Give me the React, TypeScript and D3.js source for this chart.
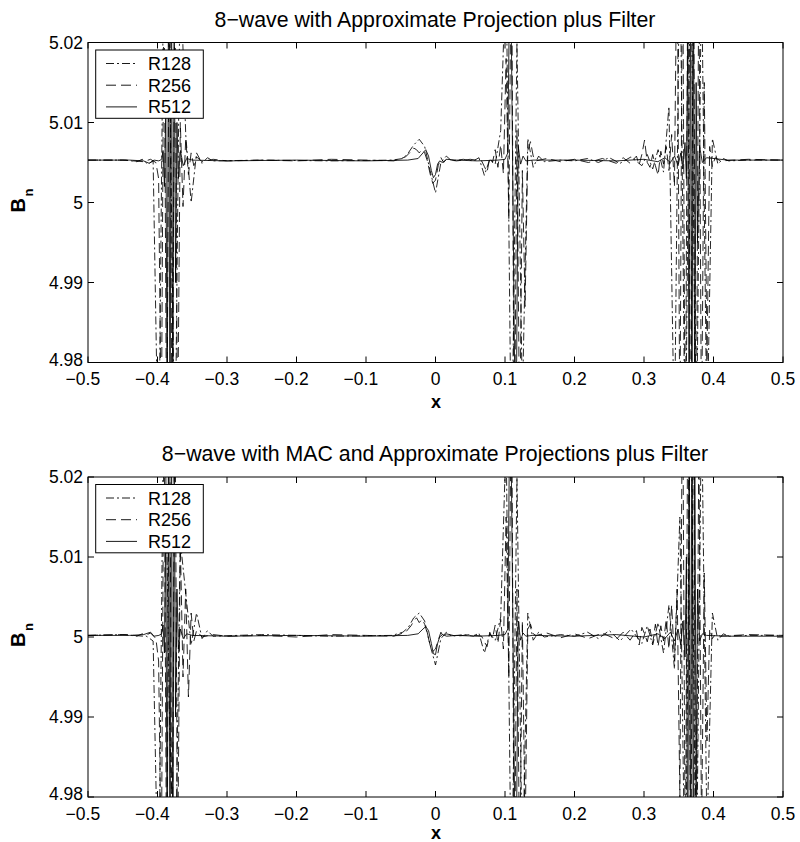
import React from 'react';
import * as d3 from 'd3';

type Pt = [number, number];

const xTicks = [-0.5, -0.4, -0.3, -0.2, -0.1, 0, 0.1, 0.2, 0.3, 0.4, 0.5];
const yTicks = [4.98, 4.99, 5, 5.01, 5.02];
const seriesNames = ['R128', 'R256', 'R512'];
const panelTitles = [
  '8\u2212wave with Approximate Projection plus Filter',
  '8\u2212wave with MAC and Approximate Projections plus Filter',
];

// ---------- top panel ----------
const topR128: Pt[] = [
  [-0.5, 5.0053], [-0.4453, 5.0053], [-0.4297, 5.0051], [-0.4219, 5.0054], [-0.4141, 5.0048], [-0.4063, 5.0052],
  [-0.3984, 4.965], [-0.3906, 5.035], [-0.3828, 5.02], [-0.375, 4.965], [-0.3672, 5.03], [-0.3594, 5.0085],
  [-0.3516, 5.0], [-0.3438, 5.0062], [-0.3359, 5.0049], [-0.3281, 5.0056], [-0.3203, 5.0052], [-0.25, 5.0053],
  [-0.15, 5.0052], [-0.0625, 5.0053], [-0.0469, 5.0055], [-0.0391, 5.0062], [-0.0313, 5.0072], [-0.0234, 5.0079],
  [-0.0156, 5.007], [-0.0078, 5.004], [0.0, 5.0012], [0.0078, 5.005], [0.0156, 5.0058], [0.0234, 5.0052],
  [0.04, 5.0054], [0.0547, 5.0052], [0.0625, 5.0056], [0.0703, 5.0034], [0.0781, 5.0054], [0.0859, 5.0048],
  [0.0938, 5.009], [0.1016, 5.03], [0.1094, 4.965], [0.1172, 5.02], [0.125, 4.975], [0.1328, 5.008],
  [0.1406, 5.0044], [0.1484, 5.0058], [0.1563, 5.0051], [0.18, 5.0053], [0.2, 5.0052], [0.2188, 5.0055],
  [0.2344, 5.005], [0.25, 5.0056], [0.2656, 5.0049], [0.2813, 5.0057], [0.2969, 5.0046], [0.3047, 5.006],
  [0.3125, 5.0042], [0.3203, 5.0066], [0.3281, 5.0038], [0.3359, 5.012], [0.3438, 4.97], [0.3516, 5.035],
  [0.3594, 4.965], [0.3672, 5.035], [0.375, 4.965], [0.3828, 5.03], [0.3906, 4.97], [0.3984, 5.008],
  [0.4063, 5.0048], [0.4141, 5.0055], [0.4219, 5.0052], [0.45, 5.0053], [0.5, 5.0053],
];

const topR256: Pt[] = [
  [-0.5, 5.0053], [-0.45, 5.0053], [-0.42, 5.0051], [-0.41, 5.0054], [-0.4023, 5.005], [-0.3984, 5.003],
  [-0.3945, 4.97], [-0.3906, 5.03], [-0.3867, 4.965], [-0.3828, 5.035], [-0.3789, 4.965], [-0.375, 5.03],
  [-0.3711, 4.97], [-0.3672, 5.01], [-0.3633, 4.9995], [-0.3594, 5.008], [-0.3555, 5.0035], [-0.3516, 5.0062],
  [-0.3477, 5.0046], [-0.3438, 5.0057], [-0.3359, 5.0051], [-0.32, 5.0054], [-0.3, 5.0052], [-0.25, 5.0053],
  [-0.2, 5.0052], [-0.15, 5.0054], [-0.1, 5.0053], [-0.06, 5.0052], [-0.043, 5.0057], [-0.0352, 5.0064],
  [-0.0313, 5.0068], [-0.0273, 5.0066], [-0.0234, 5.0062], [-0.0195, 5.0066], [-0.0156, 5.0062], [-0.0117, 5.0052],
  [-0.0078, 5.0036], [-0.0039, 5.0024], [0.0, 5.0028], [0.0039, 5.0046], [0.0078, 5.0056], [0.0117, 5.005],
  [0.0156, 5.0054], [0.03, 5.0052], [0.05, 5.0054], [0.0664, 5.0052], [0.0703, 5.0045], [0.0742, 5.0038],
  [0.0781, 5.0056], [0.082, 5.005], [0.0859, 5.0066], [0.0898, 5.0044], [0.0938, 5.0072], [0.0977, 5.0036],
  [0.1016, 5.018], [0.1055, 4.998], [0.1094, 5.035], [0.1133, 4.965], [0.1172, 5.009], [0.1211, 4.97],
  [0.125, 5.004], [0.1289, 4.987], [0.1328, 5.0065], [0.1367, 5.0076], [0.1406, 5.0058], [0.1445, 5.0052],
  [0.16, 5.0055], [0.18, 5.0051], [0.2, 5.0054], [0.22, 5.005], [0.24, 5.0055], [0.26, 5.0049],
  [0.27, 5.0056], [0.28, 5.0049], [0.2891, 5.0058], [0.293, 5.0047], [0.2969, 5.006], [0.3008, 5.0078],
  [0.3047, 5.005], [0.3086, 5.0044], [0.3125, 5.006], [0.3164, 5.0046], [0.3203, 5.0034], [0.3242, 5.0064],
  [0.3281, 5.0048], [0.332, 5.007], [0.3359, 5.004], [0.3398, 5.0085], [0.3438, 5.002], [0.3477, 5.035],
  [0.3516, 4.97], [0.3555, 5.035], [0.3594, 4.965], [0.3633, 5.035], [0.3672, 4.965], [0.3711, 5.035],
  [0.375, 4.965], [0.3789, 5.03], [0.3828, 4.97], [0.3867, 5.015], [0.3906, 4.98], [0.3945, 5.007],
  [0.3984, 5.0045], [0.4023, 5.0056], [0.41, 5.0052], [0.45, 5.0054], [0.5, 5.0053],
];

const topR512: Pt[] = [
  [-0.5, 5.0053], [-0.44, 5.0053], [-0.42, 5.0052], [-0.412, 5.0049], [-0.405, 5.0053], [-0.398, 5.0052],
  [-0.394, 5.0054], [-0.392, 5.0065], [-0.39, 5.002], [-0.388, 5.012], [-0.386, 4.97], [-0.384, 5.035],
  [-0.382, 4.965], [-0.38, 5.035], [-0.378, 4.97], [-0.376, 5.025], [-0.374, 4.99], [-0.372, 5.01],
  [-0.37, 5.003], [-0.367, 5.0065], [-0.363, 5.0046], [-0.358, 5.0055], [-0.35, 5.0053], [-0.3, 5.0052],
  [-0.2, 5.0053], [-0.1, 5.0052], [-0.04, 5.0053], [-0.025, 5.0055], [-0.018, 5.0062], [-0.014, 5.0066],
  [-0.01, 5.0058], [-0.006, 5.004], [-0.003, 5.0031], [0.0, 5.0035], [0.003, 5.0048], [0.006, 5.0052],
  [0.01, 5.005], [0.016, 5.0054], [0.03, 5.0053], [0.06, 5.0052], [0.09, 5.0053], [0.1, 5.0054],
  [0.104, 5.0062], [0.1075, 5.035], [0.1115, 5.0], [0.1155, 4.965], [0.119, 5.007], [0.1225, 5.0048],
  [0.126, 5.0058], [0.13, 5.0052], [0.14, 5.0053], [0.2, 5.0053], [0.26, 5.0052], [0.3, 5.0054],
  [0.32, 5.0051], [0.33, 5.0056], [0.338, 5.005], [0.344, 5.0058], [0.349, 5.0046], [0.353, 5.0062],
  [0.356, 5.0042], [0.359, 5.0075], [0.361, 5.003], [0.363, 5.02], [0.365, 4.965], [0.367, 5.035],
  [0.369, 4.965], [0.371, 5.035], [0.373, 4.97], [0.375, 5.015], [0.377, 4.995], [0.38, 5.007],
  [0.384, 5.005], [0.39, 5.0056], [0.42, 5.0053], [0.5, 5.0053],
];

// ---------- bottom panel ----------
const botR128: Pt[] = [
  [-0.5, 5.0002], [-0.4453, 5.0003], [-0.4297, 5.0001], [-0.4219, 5.0004], [-0.4141, 5.0], [-0.4063, 4.9995],
  [-0.3984, 4.965], [-0.3906, 5.035], [-0.3828, 4.99], [-0.375, 4.965], [-0.3672, 5.012], [-0.3594, 5.0055],
  [-0.3516, 4.999], [-0.3438, 5.003], [-0.3359, 4.9998], [-0.3281, 5.0008], [-0.3203, 5.0001], [-0.25, 5.0003],
  [-0.15, 5.0001], [-0.0625, 5.0002], [-0.0469, 5.0006], [-0.0391, 5.0012], [-0.0313, 5.0024], [-0.0234, 5.003],
  [-0.0156, 5.002], [-0.0078, 4.999], [0.0, 4.9965], [0.0078, 4.9998], [0.0156, 5.0006], [0.0234, 5.0001],
  [0.04, 5.0003], [0.0547, 5.0001], [0.0625, 5.0005], [0.0703, 4.998], [0.0781, 5.0004], [0.0859, 4.9996],
  [0.0938, 5.0025], [0.1016, 5.025], [0.1094, 4.965], [0.1172, 5.02], [0.125, 4.97], [0.1328, 5.003],
  [0.1406, 4.9996], [0.1484, 5.0006], [0.1563, 5.0], [0.18, 5.0003], [0.2, 5.0001], [0.2188, 5.0006],
  [0.2344, 4.9998], [0.25, 5.0008], [0.2656, 4.9995], [0.2813, 5.001], [0.2969, 4.9992], [0.3047, 5.0014],
  [0.3125, 4.999], [0.3203, 5.0018], [0.3281, 4.998], [0.3359, 5.004], [0.3438, 4.996], [0.3516, 5.015],
  [0.3594, 4.965], [0.3672, 5.035], [0.375, 4.965], [0.3828, 5.03], [0.3906, 4.975], [0.3984, 5.003],
  [0.4063, 4.9996], [0.4141, 5.0004], [0.4219, 5.0001], [0.45, 5.0002], [0.5, 5.0002],
];

const botR256: Pt[] = [
  [-0.5, 5.0002], [-0.45, 5.0003], [-0.42, 5.0001], [-0.41, 5.0005], [-0.4023, 4.9998], [-0.3984, 4.997],
  [-0.3945, 4.97], [-0.3906, 5.03], [-0.3867, 4.965], [-0.3828, 5.035], [-0.3789, 4.965], [-0.375, 5.035],
  [-0.3711, 4.97], [-0.3672, 5.012], [-0.3633, 4.995], [-0.3594, 5.006], [-0.3555, 4.9925], [-0.3516, 5.003],
  [-0.3477, 4.9995], [-0.3438, 5.0008], [-0.3359, 5.0], [-0.32, 5.0003], [-0.3, 5.0001], [-0.25, 5.0002],
  [-0.2, 5.0], [-0.15, 5.0003], [-0.1, 5.0002], [-0.06, 5.0001], [-0.043, 5.0006], [-0.0352, 5.0014],
  [-0.0313, 5.002], [-0.0273, 5.0024], [-0.0234, 5.0018], [-0.0195, 5.0022], [-0.0156, 5.0016], [-0.0117, 5.0004],
  [-0.0078, 4.999], [-0.0039, 4.9982], [0.0, 4.9985], [0.0039, 4.9996], [0.0078, 5.0006], [0.0117, 5.0],
  [0.0156, 5.0004], [0.03, 5.0001], [0.05, 5.0003], [0.0664, 5.0001], [0.0703, 4.9994], [0.0742, 4.9988],
  [0.0781, 5.0006], [0.082, 4.9998], [0.0859, 5.0015], [0.0898, 4.9992], [0.0938, 5.0022], [0.0977, 4.9985],
  [0.1016, 5.015], [0.1055, 4.995], [0.1094, 5.035], [0.1133, 4.965], [0.1172, 5.006], [0.1211, 4.97],
  [0.125, 5.002], [0.1289, 4.975], [0.1328, 5.001], [0.1367, 5.0016], [0.1406, 5.0004], [0.1445, 5.0002],
  [0.16, 5.0005], [0.18, 4.9999], [0.2, 5.0004], [0.22, 4.9998], [0.24, 5.0005], [0.26, 4.9997],
  [0.27, 5.0006], [0.28, 4.9996], [0.2891, 5.0008], [0.293, 4.999], [0.2969, 5.0012], [0.3008, 5.0004],
  [0.3047, 4.9994], [0.3086, 5.001], [0.3125, 4.9992], [0.3164, 5.0016], [0.3203, 4.9988], [0.3242, 5.0014],
  [0.3281, 4.9995], [0.332, 5.0022], [0.3359, 4.9985], [0.3398, 5.004], [0.3438, 4.997], [0.3477, 5.006],
  [0.3516, 4.98], [0.3555, 5.035], [0.3594, 4.97], [0.3633, 5.035], [0.3672, 4.965], [0.3711, 5.035],
  [0.375, 4.965], [0.3789, 5.025], [0.3828, 4.975], [0.3867, 5.008], [0.3906, 4.987], [0.3945, 5.001],
  [0.3984, 4.9998], [0.4023, 5.0003], [0.41, 5.0001], [0.45, 5.0003], [0.5, 5.0002],
];

const botR512: Pt[] = [
  [-0.5, 5.0002], [-0.44, 5.0002], [-0.42, 5.0003], [-0.41, 5.0006], [-0.405, 5.0001], [-0.398, 5.0002],
  [-0.394, 5.0004], [-0.392, 5.0015], [-0.39, 4.998], [-0.388, 5.015], [-0.386, 4.965], [-0.384, 5.035],
  [-0.382, 4.965], [-0.38, 5.035], [-0.378, 4.965], [-0.376, 5.025], [-0.374, 4.99], [-0.372, 5.006],
  [-0.37, 4.9985], [-0.367, 5.001], [-0.363, 4.9998], [-0.358, 5.0004], [-0.35, 5.0002], [-0.3, 5.0001],
  [-0.2, 5.0002], [-0.1, 5.0001], [-0.04, 5.0002], [-0.025, 5.0004], [-0.018, 5.001], [-0.014, 5.0013],
  [-0.01, 5.0008], [-0.006, 4.9992], [-0.003, 4.9979], [0.0, 4.9978], [0.003, 4.9992], [0.006, 5.0],
  [0.01, 5.0003], [0.016, 5.0001], [0.03, 5.0002], [0.06, 5.0001], [0.09, 5.0002], [0.1, 5.0003],
  [0.104, 5.001], [0.1075, 5.035], [0.1115, 5.0], [0.1155, 4.965], [0.119, 5.002], [0.1225, 4.9996],
  [0.126, 5.0005], [0.13, 5.0001], [0.14, 5.0002], [0.2, 5.0001], [0.26, 5.0003], [0.3, 5.0],
  [0.32, 5.0004], [0.33, 4.9998], [0.338, 5.0006], [0.344, 4.9995], [0.349, 5.001], [0.353, 4.999],
  [0.356, 5.002], [0.359, 4.9975], [0.361, 5.01], [0.363, 4.965], [0.365, 5.035], [0.367, 4.965],
  [0.369, 5.035], [0.371, 4.965], [0.373, 5.03], [0.375, 4.98], [0.377, 5.006], [0.38, 4.9995],
  [0.384, 5.0004], [0.39, 5.0002], [0.42, 5.0001], [0.5, 5.0001],
];

const topSeries = [topR128, topR256, topR512];
const botSeries = [botR128, botR256, botR512];

const FONT = '"Liberation Sans", Arial, Helvetica, sans-serif';
const dashes = ['8,3,2,3', '10,5', 'none'];

const X0 = 88;
const X1 = 783;

function fmt(v: number): string {
  return d3.format('')(Math.abs(v));
}

function Panel({ top, bottom, series, title, idx }: { top: number; bottom: number; series: Pt[][]; title: string; idx: number }) {
  const x = d3.scaleLinear().domain([-0.5, 0.5]).range([X0, X1]);
  const y = d3.scaleLinear().domain([4.98, 5.02]).range([bottom, top]);
  const line = d3.line<Pt>().x((d) => x(d[0])).y((d) => y(d[1]));
  const clipId = `clip${idx}`;
  const tl = 6;
  const legTop = top + 7.5;
  return (
    <g>
      <defs>
        <clipPath id={clipId}>
          <rect x={X0} y={top} width={X1 - X0} height={bottom - top} />
        </clipPath>
      </defs>
      <text x={435} y={top - 16} textAnchor="middle" fontSize={21.3} fontFamily={FONT} fill="#000">{title}</text>
      <g clipPath={`url(#${clipId})`}>
        {series.map((s, i) => (
          <path key={i} d={line(s) || ''} fill="none" stroke="#000" strokeWidth={0.85} strokeDasharray={dashes[i]} />
        ))}
      </g>
      <rect x={X0} y={top} width={X1 - X0} height={bottom - top} fill="none" stroke="#000" strokeWidth={1} />
      {xTicks.map((t) => (
        <g key={'x' + t}>
          <line x1={x(t)} x2={x(t)} y1={bottom} y2={bottom - tl} stroke="#000" />
          <line x1={x(t)} x2={x(t)} y1={top} y2={top + tl} stroke="#000" />
          <text x={x(t)} y={bottom + 22.5} textAnchor="middle" fontSize={17.5} fontFamily={FONT}>{fmt(t)}</text>
          {t < 0 && (
            <text x={x(t) - 12.2} y={bottom + 22.5} textAnchor="end" fontSize={17.5} fontFamily={FONT}>{'\u2212'}</text>
          )}
        </g>
      ))}
      {yTicks.map((t) => (
        <g key={'y' + t}>
          <line x1={X0} x2={X0 + tl} y1={y(t)} y2={y(t)} stroke="#000" />
          <line x1={X1} x2={X1 - tl} y1={y(t)} y2={y(t)} stroke="#000" />
          <text x={83} y={y(t) + 6.3 - (t === 4.98 ? 3 : 0)} textAnchor="end" fontSize={17.5} fontFamily={FONT}>{d3.format('')(t)}</text>
        </g>
      ))}
      <text x={436} y={bottom + (idx === 0 ? 45.5 : 41.5)} textAnchor="middle" fontSize={18} fontWeight="bold" fontFamily={FONT}>x</text>
      <text transform={`translate(25,${top + 170}) rotate(-90)`} fontSize={20} fontWeight="bold" fontFamily={FONT}>
        B<tspan dx={1.5} dy={8} fontSize={13}>n</tspan>
      </text>
      <rect x={95.7} y={legTop} width={107.6} height={68.3} fill="#fff" stroke="#000" strokeWidth={1} />
      {seriesNames.map((n, i) => {
        const by = legTop + 20 + i * 21.7;
        return (
          <g key={n}>
            <line x1={106} x2={137} y1={by - 6.5} y2={by - 6.5} stroke="#000" strokeWidth={0.9} strokeDasharray={dashes[i]} />
            <text x={148} y={by} fontSize={18} fontFamily={FONT}>{n}</text>
          </g>
        );
      })}
    </g>
  );
}

export default function App() {
  return (
    <svg width={800} height={842} style={{ position: 'absolute', left: 0, top: 0, background: '#fff' }}>
      <rect x={0} y={0} width={800} height={842} fill="#fff" />
      <Panel top={42.5} bottom={362.5} series={topSeries} title={panelTitles[0]} idx={0} />
      <Panel top={477} bottom={797} series={botSeries} title={panelTitles[1]} idx={1} />
    </svg>
  );
}
